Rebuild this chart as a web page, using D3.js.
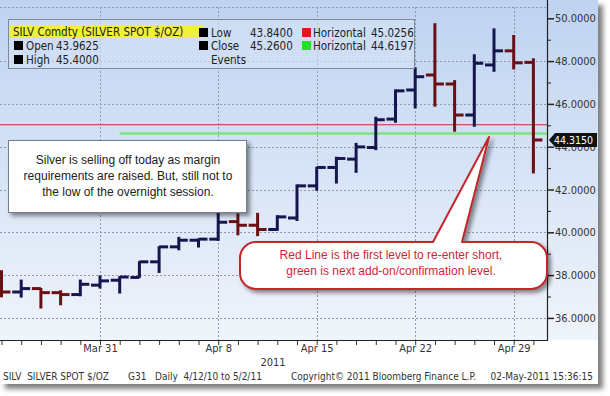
<!DOCTYPE html>
<html>
<head>
<meta charset="utf-8">
<script src="https://cdn.jsdelivr.net/npm/d3@7"></script>
<style>
  body { margin: 0; background: #fff; }
  .cond { font-family: "DejaVu Sans Condensed", "Liberation Sans Narrow", sans-serif; }
  .note { font-family: "Liberation Sans", Arial, sans-serif; }
</style>
</head>
<body>
<div id="chart"></div>
<script>
var width = 610,
    height = 396

// trading days shown on the chart
var dates = ["2011-03-24", "2011-03-25", "2011-03-28", "2011-03-29", "2011-03-30", "2011-03-31",
  "2011-04-01", "2011-04-04", "2011-04-05", "2011-04-06", "2011-04-07", "2011-04-08",
  "2011-04-11", "2011-04-12", "2011-04-13", "2011-04-14", "2011-04-15",
  "2011-04-18", "2011-04-19", "2011-04-20", "2011-04-21", "2011-04-22",
  "2011-04-25", "2011-04-26", "2011-04-27", "2011-04-28", "2011-04-29", "2011-05-02"]
var opens  = [37.90, 37.21, 37.37, 37.18, 37.09, 37.53, 37.76, 37.89, 38.62, 39.32, 39.63, 39.68,
  40.50, 40.33, 40.13, 40.67, 42.17, 43.03, 43.42, 43.9625, 45.29, 46.65, 47.35, 46.93, 45.48, 47.82, 48.48, 47.94]
var highs  = [38.23, 37.79, 37.40, 37.29, 37.79, 37.99, 37.95, 38.65, 39.35, 39.79, 39.71, 40.90,
  40.88, 40.91, 40.80, 42.24, 43.06, 43.53, 44.18, 45.40, 46.68, 47.71, 49.77, 47.11, 48.32, 49.53, 49.22, 48.13]
var lows   = [36.96, 36.95, 36.44, 36.59, 37.01, 37.37, 37.14, 37.87, 38.10, 39.16, 39.29, 39.60,
  39.86, 39.82, 40.07, 40.53, 41.94, 42.28, 42.78, 43.84, 45.12, 45.79, 45.87, 44.70, 44.93, 47.50, 47.61, 42.75]
var closes = [37.21, 37.37, 37.18, 37.09, 37.57, 37.73, 37.91, 38.62, 39.32, 39.63, 39.68, 40.47,
  40.33, 40.13, 40.72, 42.17, 43.03, 43.45, 43.99, 45.26, 46.61, 47.27, 46.93, 45.48, 47.90, 48.48, 47.92, 44.315]

var yTicks = [36, 38, 40, 42, 44, 46, 48, 50]
var yMinor = [37, 39, 41, 43, 45, 47, 49]
var labelDates = ["2011-03-31", "2011-04-08", "2011-04-15", "2011-04-22", "2011-04-29"]
var labelTexts = ["Mar 31", "Apr 8", "Apr 15", "Apr 22", "Apr 29"]

// horizontal levels (red, green)
var redLevel = 45.0256
var greenLevel = 44.6197
var lastPrice = 44.3150

var svg = d3.select("#chart")
  .append("svg")
    .attr("width", width)
    .attr("height", height)

var defs = svg.append("defs")
var grad = defs.append("linearGradient").attr("id", "bg").attr("x1", 0).attr("y1", 0).attr("x2", 0).attr("y2", 1)
grad.append("stop").attr("offset", "0%").attr("stop-color", "#bed3f1")
grad.append("stop").attr("offset", "100%").attr("stop-color", "#f0f4fb")

var sh = defs.append("filter").attr("id", "shadow").attr("x", "-10%").attr("y", "-10%").attr("width", "130%").attr("height", "140%")
sh.append("feDropShadow").attr("dx", 3).attr("dy", 3).attr("stdDeviation", 2)
  .attr("flood-color", "#000").attr("flood-opacity", 0.45)
var sh2 = defs.append("filter").attr("id", "panelshadow").attr("x", "-5%").attr("y", "-5%").attr("width", "115%").attr("height", "115%")
sh2.append("feDropShadow").attr("dx", 5).attr("dy", 5).attr("stdDeviation", 2.5)
  .attr("flood-color", "#000").attr("flood-opacity", 0.5)

var plotRight = 547, plotBottom = 340, plotTop = 7

// scales
var x = d3.scalePoint().domain(dates).range([1.5, 533.4])
var y = d3.scaleLinear().domain([36, 50]).range([317.9, 18.3])

// panel + background
svg.append("rect").attr("x", 0).attr("y", 0).attr("width", 598).attr("height", 384)
  .attr("fill", "#fff").attr("filter", "url(#panelshadow)")
svg.append("rect").attr("x", 0).attr("y", 0).attr("width", 598).attr("height", plotBottom)
  .attr("fill", "url(#bg)")

// grid
var grid = svg.append("g").attr("stroke", "#8c9bb0").attr("stroke-dasharray", "2,2").attr("stroke-width", 1)
grid.selectAll(".hg").data(yTicks.filter(function(d) { return d < 50 }))
  .enter().append("line")
    .attr("x1", 0).attr("x2", plotRight)
    .attr("y1", function(d) { return Math.round(y(d)) + 0.5 })
    .attr("y2", function(d) { return Math.round(y(d)) + 0.5 })
grid.append("line").attr("x1", 0).attr("x2", plotRight).attr("y1", plotTop + 0.5).attr("y2", plotTop + 0.5)
grid.selectAll(".vg").data(labelDates)
  .enter().append("line")
    .attr("y1", plotTop).attr("y2", plotBottom)
    .attr("x1", function(d) { return Math.round(x(d)) + 0.5 })
    .attr("x2", function(d) { return Math.round(x(d)) + 0.5 })

// horizontal levels
svg.append("line").attr("x1", 0).attr("x2", plotRight)
  .attr("y1", y(redLevel)).attr("y2", y(redLevel))
  .attr("stroke", "#c8282d").attr("stroke-width", 1.2)
svg.append("line").attr("x1", x("2011-04-01")).attr("x2", plotRight)
  .attr("y1", y(greenLevel)).attr("y2", y(greenLevel))
  .attr("stroke", "#7ee27e").attr("stroke-width", 2.5)

// OHLC bars
var bars = svg.append("g").selectAll("g").data(dates).enter().append("g")
  .attr("stroke", function(d, i) { return closes[i] < opens[i] ? "#6a1015" : "#16164f" })
  .attr("stroke-width", 3)
bars.append("line")
  .attr("x1", function(d) { return x(d) }).attr("x2", function(d) { return x(d) })
  .attr("y1", function(d, i) { return y(highs[i]) }).attr("y2", function(d, i) { return y(lows[i]) })
bars.append("line")
  .attr("x1", function(d) { return x(d) - 9 }).attr("x2", function(d) { return x(d) })
  .attr("y1", function(d, i) { return y(opens[i]) }).attr("y2", function(d, i) { return y(opens[i]) })
bars.append("line")
  .attr("x1", function(d) { return x(d) }).attr("x2", function(d) { return x(d) + 9 })
  .attr("y1", function(d, i) { return y(closes[i]) }).attr("y2", function(d, i) { return y(closes[i]) })

// axes
var yAxis = svg.append("g").attr("class", "cond")
  .attr("transform", "translate(" + plotRight + ",0)")
  .call(d3.axisRight(y).tickValues(yTicks).tickSize(7).tickPadding(1).tickFormat(d3.format(".4f")))
yAxis.select(".domain").remove()
yAxis.selectAll("text").attr("font-size", 11).attr("fill", "#333").attr("font-family", null)
yAxis.selectAll("line").attr("stroke", "#222").attr("stroke-width", 1.5)
var yMinorAxis = svg.append("g")
  .attr("transform", "translate(" + plotRight + ",0)")
  .call(d3.axisRight(y).tickValues(yMinor).tickSize(4).tickFormat(""))
yMinorAxis.select(".domain").remove()
yMinorAxis.selectAll("line").attr("stroke", "#222")

var xAxis = svg.append("g").attr("class", "cond")
  .attr("transform", "translate(0," + plotBottom + ")")
  .call(d3.axisBottom(x).tickValues(dates).tickSize(5).tickFormat(function(d) {
    var i = labelDates.indexOf(d)
    return i < 0 ? "" : labelTexts[i]
  }))
xAxis.select(".domain").remove()
xAxis.selectAll("text").attr("font-size", 11).attr("fill", "#333").attr("font-family", null).attr("y", 4)
xAxis.selectAll("line").attr("stroke", "#333")

svg.append("path")
  .attr("d", "M0," + (plotBottom + 0.5) + "H" + (plotRight + 0.5) + "V0")
  .attr("fill", "none").attr("stroke", "#222").attr("stroke-width", 1.2)

svg.append("text").attr("class", "cond").attr("x", 273).attr("y", 366)
  .attr("text-anchor", "middle").attr("font-size", 11).attr("fill", "#333").text("2011")

// last price tag
var ty = y(lastPrice)
svg.append("path")
  .attr("d", "M549," + ty + "L555," + (ty - 7) + "H597V" + (ty + 7) + "H555Z")
  .attr("fill", "#111")
svg.append("text").attr("class", "cond").attr("x", 554).attr("y", ty + 4)
  .attr("font-size", 10.5).attr("fill", "#fff").text(d3.format(".4f")(lastPrice))

// legend
var lg = svg.append("g").attr("class", "cond").attr("font-size", 11.5).attr("fill", "#222")
lg.append("rect").attr("x", 8.5).attr("y", 19.5).attr("width", 406).attr("height", 49)
  .attr("fill", "#d6e3f5").attr("fill-opacity", 0.6).attr("stroke", "#7d8a99")
lg.append("rect").attr("x", 10).attr("y", 25).attr("width", 193).attr("height", 13).attr("fill", "#eef03c")
lg.append("text").attr("x", 13).attr("y", 36).text("SILV Comdty (SILVER SPOT $/OZ)")
var legendRows = [
  { sx: 14, sy: 41, c: "#000", label: "Open", value: d3.format(".4f")(opens[19]), lx: 26, vx: 56 },
  { sx: 14, sy: 55, c: "#000", label: "High", value: d3.format(".4f")(highs[19]), lx: 26, vx: 56 },
  { sx: 199, sy: 28, c: "#000", label: "Low", value: d3.format(".4f")(lows[19]), lx: 211, vx: 250 },
  { sx: 199, sy: 41, c: "#000", label: "Close", value: d3.format(".4f")(closes[19]), lx: 211, vx: 250 },
  { sx: 302, sy: 28, c: "#e8141b", label: "Horizontal", value: d3.format(".4f")(redLevel), lx: 313, vx: 371 },
  { sx: 302, sy: 41, c: "#22e022", label: "Horizontal", value: d3.format(".4f")(greenLevel), lx: 313, vx: 371 }
]
legendRows.forEach(function(r) {
  lg.append("rect").attr("x", r.sx).attr("y", r.sy).attr("width", 9).attr("height", 9).attr("fill", r.c)
  lg.append("text").attr("x", r.lx).attr("y", r.sy + 9).text(r.label)
  lg.append("text").attr("x", r.vx).attr("y", r.sy + 9).text(r.value)
})
lg.append("text").attr("x", 211).attr("y", 64).text("Events")

// callout 1
svg.append("rect").attr("x", 8.5).attr("y", 140.5).attr("width", 238).attr("height", 72)
  .attr("fill", "#fff").attr("stroke", "#6e7f96").attr("filter", "url(#shadow)")
var note1 = ["Silver is selling off today as margin", "requirements are raised. But, still not to",
  "the low of the overnight session."]
svg.append("g").attr("class", "note").attr("font-size", 12).attr("fill", "#222")
  .selectAll("text").data(note1).enter().append("text")
    .attr("x", 128).attr("y", function(d, i) { return 164 + i * 16 })
    .attr("text-anchor", "middle").text(function(d) { return d })

// callout 2 with pointer
var bx0 = 240, bx1 = 547, by0 = 242, by1 = 289, r = 16
var tipX = 489, tipY = 137
var p = d3.path()
p.moveTo(bx0 + r, by0)
p.lineTo(433, by0)
p.lineTo(tipX, tipY)
p.lineTo(462, by0)
p.lineTo(bx1 - r, by0)
p.arcTo(bx1, by0, bx1, by0 + r, r)
p.lineTo(bx1, by1 - r)
p.arcTo(bx1, by1, bx1 - r, by1, r)
p.lineTo(bx0 + r, by1)
p.arcTo(bx0, by1, bx0, by1 - r, r)
p.lineTo(bx0, by0 + r)
p.arcTo(bx0, by0, bx0 + r, by0, r)
p.closePath()
svg.append("path").attr("d", p.toString())
  .attr("fill", "#fff").attr("stroke", "#c4262c").attr("stroke-width", 2)
  .attr("stroke-linejoin", "round").attr("filter", "url(#shadow)")
var note2 = ["Red Line is the first level to re-enter short,", "green is next add-on/confirmation level."]
svg.append("g").attr("class", "note").attr("font-size", 12).attr("fill", "#d11f3a")
  .selectAll("text").data(note2).enter().append("text")
    .attr("x", 391).attr("y", function(d, i) { return 259 + i * 16 })
    .attr("text-anchor", "middle").text(function(d) { return d })

// footer
var footer = svg.append("g").attr("class", "cond").attr("font-size", 10).attr("fill", "#333")
footer.append("text").attr("x", 3).attr("y", 380).attr("xml:space", "preserve").text("SILV  SILVER SPOT $/OZ")
footer.append("text").attr("x", 128).attr("y", 380).text("G31")
footer.append("text").attr("x", 155).attr("y", 380).attr("xml:space", "preserve").text("Daily  4/12/10 to 5/2/11")
footer.append("text").attr("x", 291).attr("y", 380).text("Copyright\u00a9 2011 Bloomberg Finance L.P.")
footer.append("text").attr("x", 593).attr("y", 380).attr("text-anchor", "end").text("02-May-2011 15:36:15")
</script>
</body>
</html>
